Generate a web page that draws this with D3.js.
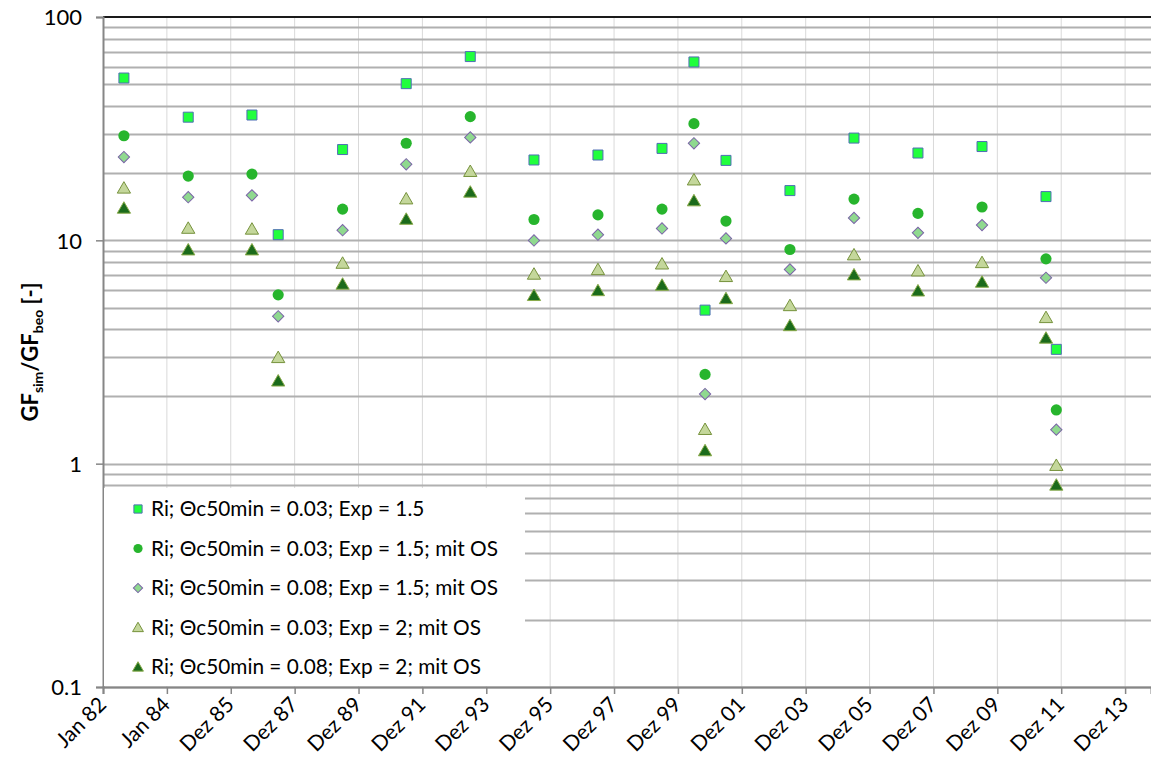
<!DOCTYPE html>
<html>
<head>
<meta charset="utf-8">
<script src="https://cdn.jsdelivr.net/npm/d3@7"></script>
<style>
  body { margin: 0; background: #fff; }
  svg text { font-family: Lato, "Liberation Sans", sans-serif; fill: #000; }
</style>
</head>
<body>
<div id="chart"></div>
<script>
(function() {

  // event dates (x) and GF_sim/GF_beo values per series
  let dates = ["1982-08-28", "1984-09-01", "1986-08-30", "1987-06-26", "1989-07-01",
               "1991-06-28", "1993-06-29", "1995-06-27", "1997-06-27", "1999-06-29",
               "2000-06-28", "2000-11-02", "2001-06-29", "2003-06-30", "2005-07-01",
               "2007-07-02", "2009-07-03", "2011-07-04", "2011-10-30"];

  let sq03exp15 = [53.3, 35.6, 36.4, 10.6, 25.5, 50.3, 66.5, 22.9, 24.1, 25.8,
                   62.9, 4.87, 22.8, 16.7, 28.7, 24.6, 26.3, 15.7, 3.25];
  let ci03exp15os = [29.4, 19.4, 19.8, 5.70, 13.8, 27.2, 35.8, 12.4, 13.0, 13.8,
                     33.3, 2.51, 12.2, 9.10, 15.3, 13.2, 14.1, 8.26, 1.74];
  let di08exp15os = [23.6, 15.6, 15.9, 4.57, 11.1, 21.9, 28.9, 9.99, 10.6, 11.3,
                     27.2, 2.05, 10.2, 7.41, 12.6, 10.8, 11.7, 6.80, 1.42];
  let tr03exp2os = [17.1, 11.3, 11.2, 2.98, 7.88, 15.3, 20.3, 7.04, 7.38, 7.82,
                    18.6, 1.42, 6.87, 5.09, 8.59, 7.28, 7.93, 4.50, 0.98];
  let tr08exp2os = [13.9, 9.04, 9.04, 2.34, 6.35, 12.4, 16.4, 5.65, 5.94, 6.28,
                    15.0, 1.14, 5.47, 4.14, 6.99, 5.92, 6.48, 3.64, 0.80];

  let seriesNames = ["Ri; \u0398c50min = 0.03; Exp = 1.5",
                     "Ri; \u0398c50min = 0.03; Exp = 1.5; mit OS",
                     "Ri; \u0398c50min = 0.08; Exp = 1.5; mit OS",
                     "Ri; \u0398c50min = 0.03; Exp = 2; mit OS",
                     "Ri; \u0398c50min = 0.08; Exp = 2; mit OS"];

  let xTickLabels = ["Jan 82", "Jan 84", "Dez 85", "Dez 87", "Dez 89", "Dez 91",
                     "Dez 93", "Dez 95", "Dez 97", "Dez 99", "Dez 01", "Dez 03",
                     "Dez 05", "Dez 07", "Dez 09", "Dez 11", "Dez 13"];
  let yTickValues = [0.1, 1, 10, 100];
  let yTickLabels = ["0.1", "1", "10", "100"];

  let xStart = "1982-01-01";
  let xEnd = "2014-10-16";
  let tickStepDays = 730;

  // marker styles per series
  let styles = [
    { shape: "square",   fill: "#21ff3d", stroke: "#4f6fb5", size: 100 },
    { shape: "circle",   fill: "#27b52d", stroke: "none",    size: 98 },
    { shape: "diamond",  fill: "#8fd98f", stroke: "#7b64a8", size: 64 },
    { shape: "triangle", fill: "#c4d79b", stroke: "#76923c", size: 76 },
    { shape: "triangle", fill: "#1b6b1b", stroke: "#8aab4a", size: 76 }
  ];

  let width = 1151, height = 763;
  let plot = { left: 103, right: 1151, top: 17, bottom: 687 };

  window.onload = function() {
    let parse = d3.utcParse("%Y-%m-%d");

    let svg = d3.select("#chart")
      .append("svg")
        .attr("width", width)
        .attr("height", height);

    let xScale = d3.scaleUtc()
      .domain([parse(xStart), parse(xEnd)])
      .range([plot.left, plot.right]);

    let yScale = d3.scaleLog()
      .domain([0.1, 100])
      .range([plot.bottom, plot.top]);

    let tickDates = xTickLabels.map((d, i) => d3.utcDay.offset(parse(xStart), i * tickStepDays));

    drawGrid(svg, xScale, yScale, tickDates);
    drawAxes(svg, xScale, yScale, tickDates);

    let allSeries = [sq03exp15, ci03exp15os, di08exp15os, tr03exp2os, tr08exp2os];
    allSeries.forEach((values, i) => {
      let pts = values.map((v, j) => ({ date: parse(dates[j]), value: v }));
      svg.append("g")
        .selectAll("path")
        .data(pts)
        .enter()
        .append("path")
          .attr("d", markerPath(styles[i], 1))
          .attr("transform", d => markerTransform(styles[i], xScale(d.date), yScale(d.value)))
          .attr("fill", styles[i].fill)
          .attr("stroke", styles[i].stroke)
          .attr("stroke-width", 1);
    });

    drawLegend(svg);
  };

  function markerPath(style, scale) {
    let type = d3.symbolSquare;
    if (style.shape == "circle") type = d3.symbolCircle;
    if (style.shape == "triangle") type = d3.symbolTriangle;
    return d3.symbol().type(type).size(style.size * scale * scale)();
  }

  function markerTransform(style, x, y) {
    if (style.shape == "diamond") return "translate(" + x + "," + y + ") rotate(45)";
    if (style.shape == "triangle") return "translate(" + x + "," + (y + 1) + ")";
    return "translate(" + x + "," + y + ")";
  }

  function drawGrid(svg, xScale, yScale, tickDates) {
    let g = svg.append("g");

    // vertical gridlines at the date ticks
    g.selectAll(".vgrid")
      .data(tickDates.slice(1))
      .enter()
      .append("line")
        .attr("x1", d => xScale(d))
        .attr("x2", d => xScale(d))
        .attr("y1", plot.top)
        .attr("y2", plot.bottom)
        .attr("stroke", "#d9d9d9")
        .attr("stroke-width", 1);

    // horizontal gridlines: majors and minors of the log scale
    let hLines = [];
    [0.1, 1, 10].forEach(base => {
      for (let k = 1; k < 10; k++) hLines.push(base * k);
    });
    g.selectAll(".hgrid")
      .data(hLines)
      .enter()
      .append("line")
        .attr("x1", plot.left)
        .attr("x2", plot.right)
        .attr("y1", d => Math.round(yScale(d)) + 0.5)
        .attr("y2", d => Math.round(yScale(d)) + 0.5)
        .attr("stroke", "#b0b0b0")
        .attr("stroke-width", 1.8);

    // top line at 100
    g.append("line")
      .attr("x1", plot.left)
      .attr("x2", plot.right)
      .attr("y1", yScale(100))
      .attr("y2", yScale(100))
      .attr("stroke", "#1a1a1a")
      .attr("stroke-width", 2);
  }

  function drawAxes(svg, xScale, yScale, tickDates) {
    // x axis
    let xAxis = d3.axisBottom(xScale)
      .tickValues(tickDates)
      .tickSize(7)
      .tickFormat((d, i) => xTickLabels[i]);

    let gx = svg.append("g")
      .attr("transform", "translate(0," + plot.bottom + ")")
      .call(xAxis);
    gx.select(".domain").attr("stroke", "#868686").attr("stroke-width", 2);
    gx.selectAll(".tick line").attr("stroke", "#868686").attr("stroke-width", 1.5);
    gx.selectAll(".tick text")
      .attr("font-size", 21)
      .attr("text-anchor", "end")
      .attr("dy", null)
      .attr("y", 0)
      .attr("transform", "translate(4,19) rotate(-45)");

    // y axis
    let yAxis = d3.axisLeft(yScale)
      .tickValues(yTickValues)
      .tickSize(7)
      .tickPadding(14)
      .tickFormat((d, i) => yTickLabels[i]);

    let gy = svg.append("g")
      .attr("transform", "translate(" + plot.left + ",0)")
      .call(yAxis);
    gy.select(".domain").attr("stroke", "#868686").attr("stroke-width", 2);
    gy.selectAll(".tick line").attr("stroke", "#868686").attr("stroke-width", 1.5);
    gy.selectAll(".tick text").attr("font-size", 22).attr("dy", "0.36em");

    // y axis title
    let title = svg.append("text")
      .attr("transform", "translate(38," + ((plot.top + plot.bottom) / 2) + ") rotate(-90)")
      .attr("text-anchor", "middle")
      .attr("font-size", 22)
      .attr("font-weight", "bold");
    title.append("tspan").text("GF");
    title.append("tspan").attr("font-size", 14).attr("dy", 5).text("sim");
    title.append("tspan").attr("dy", -5).text("/GF");
    title.append("tspan").attr("font-size", 14).attr("dy", 5).text("beo");
    title.append("tspan").attr("dy", -5).text(" [-]");
  }

  function drawLegend(svg) {
    let lg = svg.append("g");
    lg.append("rect")
      .attr("x", plot.left + 1)
      .attr("y", 488)
      .attr("width", 421)
      .attr("height", plot.bottom - 489)
      .attr("fill", "#fff");

    let rowY = d3.scaleLinear().domain([0, 4]).range([509, 667]);

    seriesNames.forEach((name, i) => {
      let y = rowY(i);
      lg.append("path")
        .attr("d", markerPath(styles[i], 0.82))
        .attr("transform", markerTransform(styles[i], 138, y))
        .attr("fill", styles[i].fill)
        .attr("stroke", styles[i].stroke)
        .attr("stroke-width", 1);
      lg.append("text")
        .attr("x", 151)
        .attr("y", y + 7)
        .attr("font-size", 20.8)
        .text(name);
    });
  }

})();
</script>
</body>
</html>
